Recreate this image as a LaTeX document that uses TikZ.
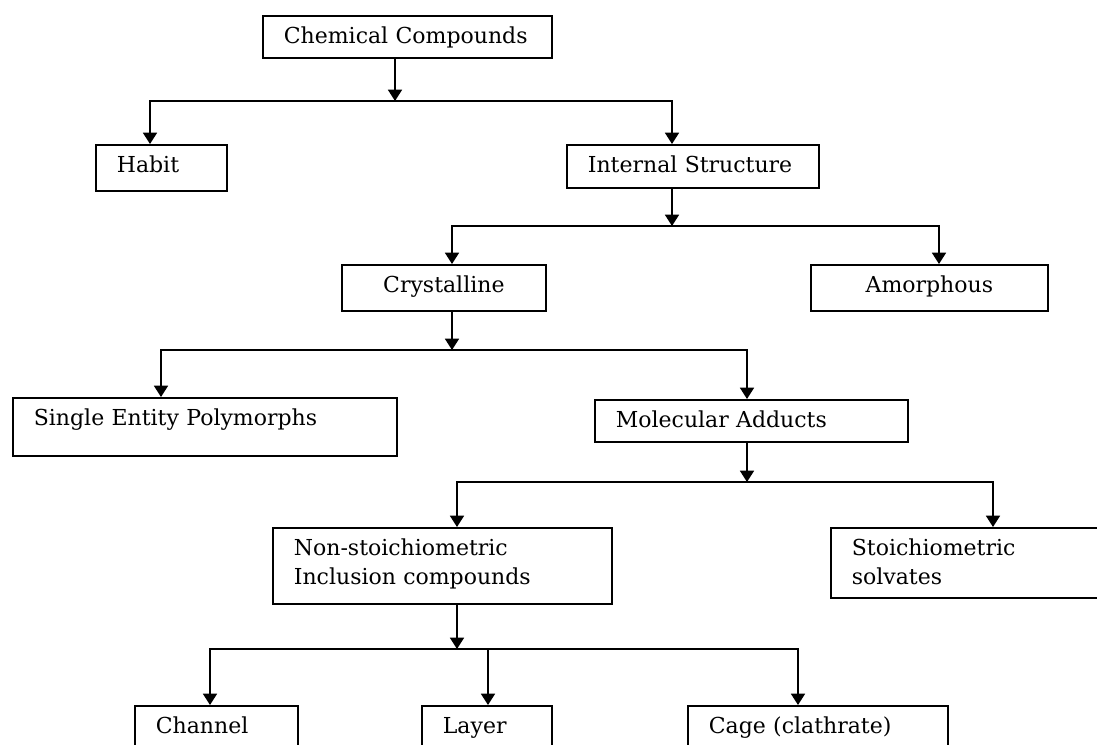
\documentclass[tikz,border=0pt]{standalone}
\usepackage{fontspec}
\setmainfont{DejaVu Serif}
\usetikzlibrary{arrows.meta}
\setlength{\parindent}{0pt}
\tikzset{
  bx/.style = {draw=black, line width=1.3pt, anchor=north west, align=left,
    inner xsep=15.75pt, inner ysep=8pt, text height=12.6pt,
    font=\fontsize{16.5}{21.75}\selectfont},% box, text at top left
  cbx/.style = {bx, align=center},% box, text centred
  ln/.style = {line width=1.3pt}% connector
}

\begin{document}
\begin{tikzpicture}[x=0.75pt,y=-0.75pt,>={Triangle[width=10.5pt,length=8.5pt]}]
\useasboundingbox (0,0) rectangle (1097,745);
\clip (0,0) rectangle (1097,745);
% boxes
\node [bx, text width=185.25pt, text depth=2.9pt] (cc) at (262,15) {Chemical Compounds};
\node [bx, text width=66.75pt, text depth=5.9pt] (habit) at (95,144) {Habit};
\node [bx, text width=157.5pt, text depth=3.65pt] (int) at (566,144) {Internal Structure};
\node [cbx, text width=121.5pt, text depth=5.9pt] (cryst) at (341,264) {Crystalline};
\node [cbx, text width=146.25pt, text depth=5.9pt] (amor) at (810,264) {Amorphous};
\node [bx, text width=256.5pt, text depth=14.9pt] (single) at (12,397) {Single Entity Polymorphs};
\node [bx, text width=203.25pt, text depth=2.9pt] (molec) at (594,399) {Molecular Adducts};
\node [bx, text width=222.75pt, text depth=28.4pt] (nonst) at (272,527) {Non-stoichiometric\\Inclusion compounds};
\node [bx, text width=186pt, text depth=23.9pt] (stoich) at (830,527) {Stoichiometric\\solvates};
\node [bx, text width=90.75pt, text depth=12.65pt] (chan) at (134,705) {Channel};
\node [bx, text width=66pt, text depth=12.65pt] (layer) at (421,705) {Layer};
\node [bx, text width=163.5pt, text depth=12.65pt] (cage) at (687,705) {Cage (clathrate)};
% junctions
\coordinate (j1) at (395,101); \coordinate (j1l) at (150,101); \coordinate (j1r) at (672,101);
\coordinate (j2) at (672,226); \coordinate (j2l) at (452,226); \coordinate (j2r) at (939,226);
\coordinate (j3) at (452,350); \coordinate (j3l) at (161,350); \coordinate (j3r) at (747,350);
\coordinate (j4) at (747,482); \coordinate (j4l) at (457,482); \coordinate (j4r) at (993,482);
\coordinate (j5) at (457,649); \coordinate (j5l) at (210,649); \coordinate (j5m) at (488,649);
\coordinate (j5r) at (798,649);
% connectors
\draw [ln,->] (cc.south -| j1) -- (j1);
\draw [ln,<->] (habit.north -| j1l) -- (j1l) -- (j1r) -- (int.north -| j1r);
\draw [ln,->] (int.south -| j2) -- (j2);
\draw [ln,<->] (cryst.north -| j2l) -- (j2l) -- (j2r) -- (amor.north -| j2r);
\draw [ln,->] (cryst.south -| j3) -- (j3);
\draw [ln,<->] (single.north -| j3l) -- (j3l) -- (j3r) -- (molec.north -| j3r);
\draw [ln,->] (molec.south -| j4) -- (j4);
\draw [ln,<->] (nonst.north -| j4l) -- (j4l) -- (j4r) -- (stoich.north -| j4r);
\draw [ln,->] (nonst.south -| j5) -- (j5);
\draw [ln,<->] (chan.north -| j5l) -- (j5l) -- (j5r) -- (cage.north -| j5r);
\draw [ln,->] (j5m) -- (layer.north -| j5m);
\end{tikzpicture}
\end{document}
